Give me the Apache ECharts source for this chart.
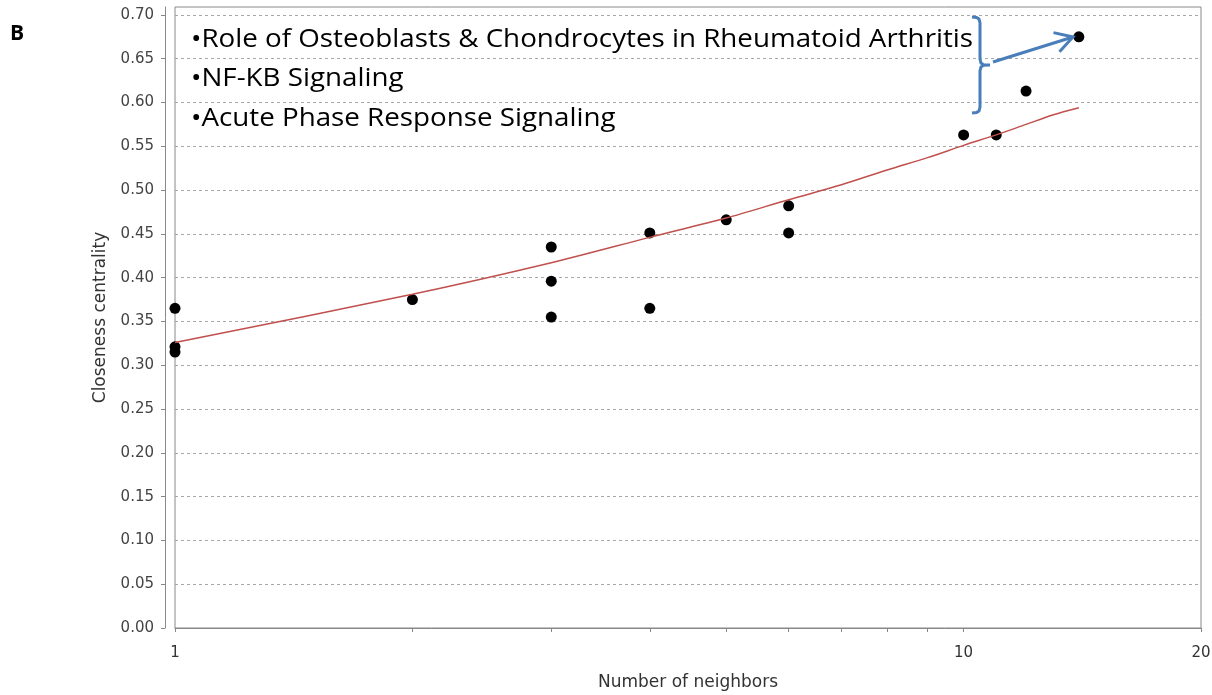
<!DOCTYPE html>
<html>
<head>
<meta charset="utf-8">
<script src="https://cdn.jsdelivr.net/npm/echarts@6/dist/echarts.min.js"></script>
<style>
html,body{margin:0;padding:0;background:#fff;}
#chart{width:1212px;height:695px;}
</style>
</head>
<body>
<div id="chart"></div>
<script>
// Scatter points (Number of neighbors, Closeness centrality)
var pointX = [1, 1, 1, 2, 3, 3, 3, 4, 4, 5, 6, 6, 10, 11, 12, 14];
var pointY = [0.365, 0.321, 0.315, 0.375, 0.435, 0.396, 0.355, 0.451, 0.365, 0.466, 0.482, 0.451, 0.563, 0.563, 0.613, 0.675];
// Fitted trend curve
var trendX = [1, 2, 3, 4, 5, 6, 7, 8, 9, 10, 11, 12, 13, 14];
var trendY = [0.326, 0.381, 0.417, 0.446, 0.468, 0.489, 0.506, 0.523, 0.537, 0.551, 0.563, 0.575, 0.586, 0.594];
// Axis ticks
var xTickValues = [1, 2, 3, 4, 5, 6, 7, 8, 9, 10, 20];
var xLabelValues = [1, 10, 20];
var yTickValues = [0, 0.05, 0.10, 0.15, 0.20, 0.25, 0.30, 0.35, 0.40, 0.45, 0.50, 0.55, 0.60, 0.65, 0.70];
var annotationLines = [
  '\u2022Role of Osteoblasts & Chondrocytes in Rheumatoid Arthritis',
  '\u2022NF-KB Signaling',
  '\u2022Acute Phase Response Signaling'
];
var panelLabel = 'B';
var xTitle = 'Number of neighbors';
var yTitle = 'Closeness centrality';

var scatterData = pointX.map(function (x, i) { return [x, pointY[i]]; });
var trendData = trendX.map(function (x, i) { return [x, trendY[i]]; });

var chart = echarts.init(document.getElementById('chart'), null, {renderer: 'canvas'});
var axisFont = 'DejaVu Sans';
var blue = '#4a7ebb';
var blueStroke = {fill: 'none', stroke: blue, lineWidth: 3};

var textEls = annotationLines.map(function (t, i) {
  return {
    type: 'text', x: 191, y: 27 + i * 39.5, scaleX: 1.11, z: 100,
    style: {text: t, fontFamily: 'Open Sans', fontSize: 25, fill: '#000', verticalAlign: 'top'}
  };
});

chart.setOption({
  animation: false,
  backgroundColor: '#fff',
  grid: {left: 175, right: 11, top: 7, bottom: 67, outerBoundsMode: 'none', containLabel: false,
    show: true, borderColor: '#888', borderWidth: 1, backgroundColor: 'transparent'},
  xAxis: {
    type: 'log', logBase: 10, min: 1, max: 20, offset: 8,
    name: xTitle, nameLocation: 'middle', nameGap: 38,
    nameTextStyle: {fontFamily: axisFont, fontSize: 17, color: '#333'},
    axisLine: {show: true, lineStyle: {color: '#888', width: 1}},
    axisTick: {show: true, length: 4, customValues: xTickValues, lineStyle: {color: '#888'}},
    axisLabel: {customValues: xLabelValues, margin: 10, fontFamily: axisFont, fontSize: 15, color: '#333',
      formatter: function (v) { return String(Math.round(v)); }},
    splitLine: {show: false},
    minorTick: {show: false}
  },
  yAxis: {
    type: 'value', min: 0, max: 0.709, offset: 10,
    name: yTitle, nameLocation: 'middle', nameGap: 56, nameRotate: 90,
    nameTextStyle: {fontFamily: axisFont, fontSize: 17, color: '#333'},
    axisLine: {show: true, lineStyle: {color: '#888', width: 1}},
    axisTick: {show: true, length: 4, customValues: yTickValues, lineStyle: {color: '#888'}},
    axisLabel: {customValues: yTickValues, margin: 11, fontFamily: axisFont, fontSize: 15, color: '#444',
      formatter: function (v) { return v.toFixed(2); }},
    splitLine: {show: true, lineStyle: {color: '#a8a8a8', width: 1, type: [3, 3]}}
  },
  series: [
    {
      type: 'scatter', data: scatterData, symbol: 'circle', symbolSize: 11,
      itemStyle: {color: '#000', opacity: 1}, z: 3
    },
    {
      type: 'line', data: trendData, smooth: 0.3, showSymbol: false, symbol: 'none',
      lineStyle: {color: '#c0504d', width: 1.5}, z: 4, silent: true
    }
  ],
  graphic: [
    {type: 'text', x: 10, y: 24, style: {text: panelLabel, fontFamily: 'Open Sans', fontWeight: 'bold', fontSize: 21, fill: '#000', verticalAlign: 'top'}}
  ].concat(textEls).concat([
    {type: 'polyline', z: 100, style: blueStroke, shape: {points: [
      [972, 17], [976.5, 17.4], [979, 19], [980, 23], [980, 59], [981, 63], [983.5, 64.7], [990, 65],
      [983.5, 65.3], [981, 67], [980, 71], [980, 107], [979, 111], [976.5, 112.6], [972, 113]
    ]}},
    {type: 'line', z: 100, shape: {x1: 993, y1: 62, x2: 1073, y2: 37}, style: blueStroke},
    {type: 'polyline', z: 100, shape: {points: [[1053.5, 32.6], [1073, 37], [1059.5, 51.7]]}, style: blueStroke}
  ])
});
</script>
</body>
</html>
